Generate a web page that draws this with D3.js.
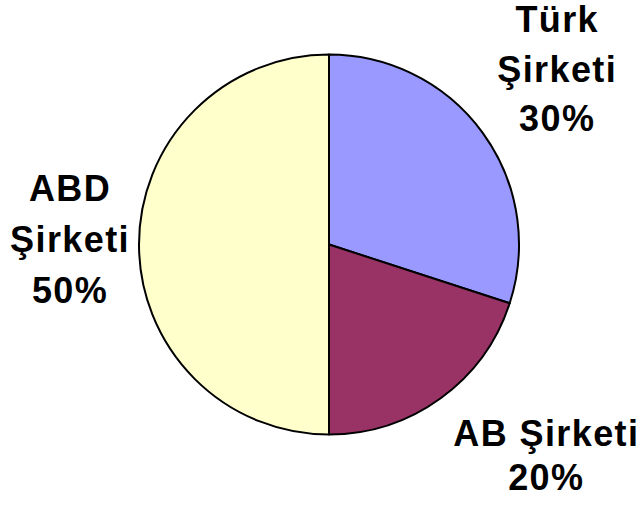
<!DOCTYPE html>
<html><head><meta charset="utf-8">
<script src="https://cdn.jsdelivr.net/npm/d3@7"></script>
<style>html,body{margin:0;padding:0;background:#fff;}svg{display:block;}</style>
</head><body>
<svg id="chart" width="638" height="505"></svg>
<script>
const categories = ["Türk Şirketi", "AB Şirketi", "ABD Şirketi"];
const values = [30, 20, 50];
const colors = ["#9999FF", "#993366", "#FFFFCC"];
// label lines per slice
const labelLines = [["Türk", "Şirketi", "30%"], ["AB Şirketi", "20%"], ["ABD", "Şirketi", "50%"]];

const W = 638, H = 505;
const cx = 329, cy = 244.5, R = 190;
const svg = d3.select("#chart");
const g = svg.append("g").attr("transform", `translate(${cx},${cy})`);

const pie = d3.pie().sort(null).value(d => d)(values);
const arc = d3.arc().innerRadius(0).outerRadius(R);
const labelArc = d3.arc().innerRadius(R * 1.4).outerRadius(R * 1.4);

g.selectAll("path").data(pie).join("path")
  .attr("d", arc)
  .attr("fill", (d, i) => colors[i])
  .attr("stroke", "#000")
  .attr("stroke-width", 2)
  .attr("stroke-linejoin", "round");

// label layout nudges (layout only)
const labelNudge = [[13, -19], [61, -4], [7, -5]];
const lineHs = [49.5, 44, 51];
const fs = 36;
pie.forEach((d, i) => {
  const a = (d.startAngle + d.endAngle) / 2;
  const rr = R * 1.4;
  const x = Math.sin(a) * rr + labelNudge[i][0];
  const y = -Math.cos(a) * rr + labelNudge[i][1];
  const lines = labelLines[i];
  const lineH = lineHs[i];
  const t = g.append("text")
    .attr("text-anchor", "middle")
    .attr("font-family", "Liberation Sans, Arial, sans-serif")
    .attr("font-weight", "bold")
    .attr("font-size", fs)
    .attr("letter-spacing", 1.4)
    .attr("fill", "#000");
  const y0 = y - (lines.length - 1) * lineH / 2 + 12.6;
  lines.forEach((s, j) => {
    t.append("tspan").attr("x", x).attr("y", y0 + j * lineH).text(s);
  });
});
</script>
</body></html>
